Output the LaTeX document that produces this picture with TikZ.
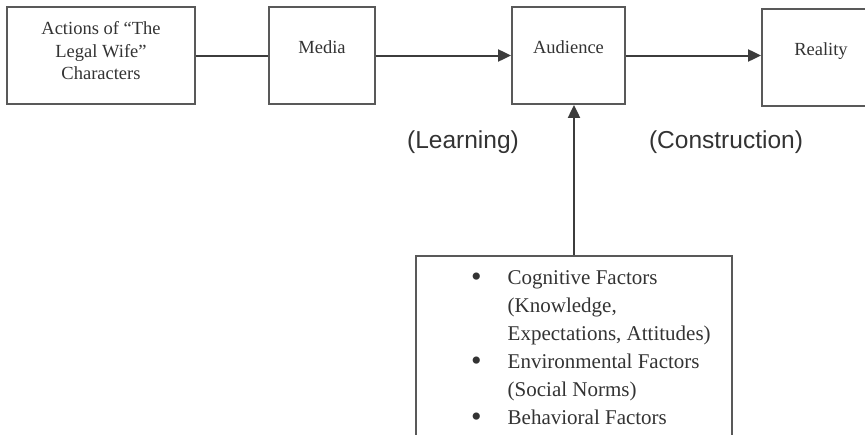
\documentclass[tikz,border=0pt]{standalone}
\usepackage{fontspec}
\setmainfont{Liberation Serif}
\setsansfont{Liberation Sans}
\usepackage{tikz}
\usetikzlibrary{arrows.meta,positioning}

\definecolor{inkgray}{HTML}{333333}
\definecolor{linegray}{HTML}{3C3C3C}

\tikzset{
  box/.style={draw=linegray!85, line width=1.8pt, minimum height=97pt, inner sep=0pt},
  boxtext/.style={text=inkgray, font=\fontsize{18.5}{22.5}\selectfont, align=center, inner sep=0pt},
  stage/.style={text=inkgray, font=\sffamily\fontsize{24.5}{28}\selectfont, inner sep=0pt},
  link/.style={draw=linegray, line width=2pt},
  tip/.style={-{Triangle[length=13pt,width=12pt]}}
}
\newcommand{\dotmark}{{\fontsize{30}{28}\selectfont\raisebox{-1.5pt}{\textbullet}}}

\begin{document}
\begin{tikzpicture}[x=1pt, y=-1pt]
  \useasboundingbox (0,0) rectangle (865,434);
  \clip (0,0) rectangle (865,434);

  % top row of boxes
  \node[box, minimum width=188pt] (actions) at (101,55.5) {};
  \node[box, minimum width=106pt] (media) at (322,55.5) {};
  \node[box, minimum width=113pt] (audience) at (568.5,55.5) {};
  \node[box, minimum width=118pt] (reality) at (821,57.5) {};

  \node[boxtext] (actionstxt) at ([yshift=4.5pt]actions.center) {Actions of “The\\Legal Wife”\\Characters};
  \node[boxtext, anchor=base] (mediatxt) at ([yshift=2pt]media.center) {Media};
  \node[boxtext, anchor=base] (audiencetxt) at ([yshift=2.5pt]audience.center) {Audience};
  \node[boxtext, anchor=base] (realitytxt) at ([yshift=2.5pt]reality.center) {Reality};

  % factors box
  \node[box, minimum width=316pt, minimum height=200pt, anchor=north] (factors) at (574,255) {};
  \node[boxtext, anchor=north west, align=left, font=\fontsize{21}{28}\selectfont] (factorlist) at (471,265) {%
    \begin{tabular}{@{}l@{\hspace{26pt}}l@{}}
      \dotmark & Cognitive Factors\\
               & (Knowledge,\\
               & Expectations, Attitudes)\\
      \dotmark & Environmental Factors\\
               & (Social Norms)\\
      \dotmark & Behavioral Factors
    \end{tabular}};

  % process labels
  \node[stage] (learning) at (463,142) {(Learning)};
  \node[stage] (construction) at (726,142) {(Construction)};

  % connectors
  \draw[link] (actions) -- (media);
  \draw[link, tip] (media) -- (audience);
  \draw[link, tip] (audience.east) -- (audience.east -| reality.west);
  \draw[link, tip] (factors.north) -- (factors.north |- audience.south);
\end{tikzpicture}
\end{document}
